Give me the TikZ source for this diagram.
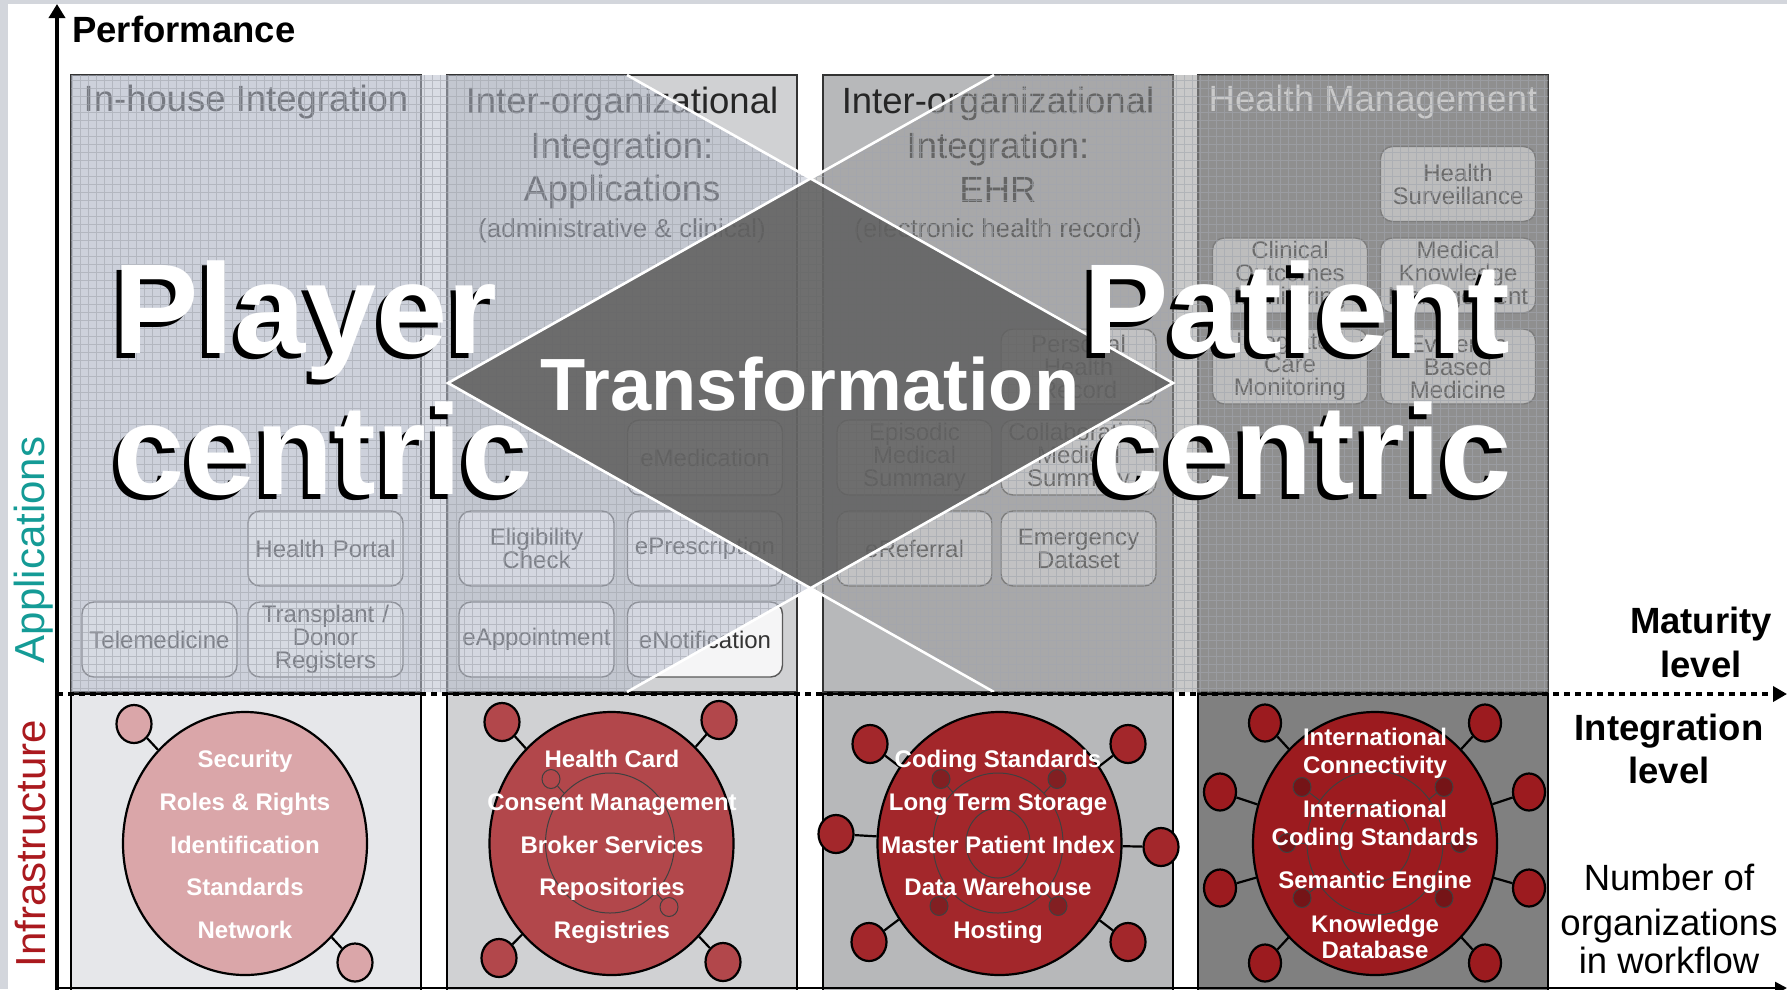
\documentclass[tikz,border=0pt]{standalone}
\usepackage{fontspec}
\setmainfont{Liberation Sans}
\usepackage{xcolor}
\usetikzlibrary{positioning,shapes.geometric,arrows.meta}

\definecolor{frame}{HTML}{D3D6DC}
\definecolor{colA}{HTML}{E6E7EA}
\definecolor{colB}{HTML}{D0D1D3}
\definecolor{colC}{HTML}{B7B8BA}
\definecolor{colD}{HTML}{808080}
\definecolor{playertint}{RGB}{186,192,207}
\definecolor{patienttint}{RGB}{156,156,156}
\definecolor{transgrey}{HTML}{656565}
\definecolor{gridgrey}{HTML}{A2A6AE}
\definecolor{appteal}{RGB}{20,155,150}
\definecolor{infrared}{RGB}{170,25,30}
\definecolor{discA}{HTML}{DAA6A9}
\definecolor{discB}{HTML}{B2474B}
\definecolor{discC}{HTML}{A3272B}
\definecolor{discD}{HTML}{9C1B1F}

\newcommand{\pxfont}[1]{\fontsize{#1}{#1}\selectfont}

\tikzset{
	colframe/.style={draw=black!80, line width=1.5pt},
	infraframe/.style={draw=black, line width=2pt},
	hdr/.style={anchor=base, inner sep=0pt, text=black!85, font=\pxfont{36.5}},
	hdrsmall/.style={hdr, font=\pxfont{26}},
	appbox/.style={draw=black!65, line width=1.4pt, rounded corners=12pt, fill=white, fill opacity=0.8, text opacity=1,
		minimum width=155pt, minimum height=75pt, text width=152pt, align=center, inner sep=0pt,
		text=black!80, font=\fontsize{24}{23}\selectfont},
	gridline/.style={draw=gridgrey, line width=0.8pt, opacity=0.6},
	whiteline/.style={white, line width=2.6pt},
	bigword/.style={inner sep=0pt, font=\bfseries\pxfont{128}},
	bigdisc/.style={ellipse, draw=black, line width=2.2pt, minimum width=244pt, minimum height=263pt, inner sep=0pt},
	smalldisc/.style={ellipse, draw=black, line width=2.2pt, minimum width=35pt, minimum height=38pt, inner sep=0pt},
	innerdisc/.style={ellipse, draw=black!75, line width=1pt, inner sep=0pt},
	tinydisc/.style={ellipse, draw=black!75, line width=1pt, minimum width=18pt, minimum height=19pt, inner sep=0pt},
	link/.style={line width=2.2pt},
	thinlink/.style={draw=black!75, line width=1pt},
	infotext/.style={anchor=base, inner sep=0pt, text=white, font=\bfseries\pxfont{24}},
	sidetext/.style={anchor=base, inner sep=0pt, font=\bfseries\pxfont{36.5}},
	axisline/.style={line width=4pt, -{Triangle[length=14pt,width=16pt]}},
	dotaxis/.style={line width=4.5pt, dash pattern=on 5.5pt off 5.5pt, -{Triangle[length=14pt,width=15pt]}}
}

\begin{document}
\begin{tikzpicture}[x=1pt, y=-1pt]
\useasboundingbox (0,0) rectangle (1787,989);
%frame
\fill[frame] (0,0) rectangle (1787,989);
\fill[white] (8,4) rectangle (1787,989);
%
%columns
\foreach \l/\r/\c in {71/421/colA, 447/797/colB, 823/1173/colC, 1198/1548/colD} {
	\draw[colframe, fill=\c] (\l,75) rectangle (\r,692);
	\draw[infraframe, fill=\c] (\l,694) rectangle (\r,991);
}
%
%headers
\node[hdr] (hdrA) at (246,111.6) {In-house Integration};
\node[hdr] (hdrB1) at (622,113) {Inter-organizational};
\node[hdr] (hdrB2) at (622,158) {Integration:};
\node[hdr] (hdrB3) at (622,201) {Applications};
\node[hdrsmall] (hdrB4) at (622,237) {(administrative \& clinical)};
\node[hdr] (hdrC1) at (998,113) {Inter-organizational};
\node[hdr] (hdrC2) at (998,158) {Integration:};
\node[hdr] (hdrC3) at (998,202) {EHR};
\node[hdrsmall] (hdrC4) at (998,237) {(electronic health record)};
\node[hdr, text=white] (hdrD) at (1373,111.6) {Health Management};
%
%applications
\node[appbox] (tele) at (159.5,639.5) {Telemedicine};
\node[appbox] (portal) at (325.5,548.5) {Health Portal};
\node[appbox] (donor) at (325.5,639.5) {Transplant /\\Donor\\Registers};
\node[appbox] (emed) at (705,457.5) {eMedication};
\node[appbox] (elig) at (536.5,548.5) {Eligibility\\Check};
\node[appbox] (epres) at (705,548.5) {ePrescription};
\node[appbox] (eappt) at (536.5,639.5) {eAppointment};
\node[appbox] (enotif) at (705,639.5) {eNotification};
\node[appbox] (phr) at (1078.5,366.5) {Personal\\Health\\Record};
\node[appbox] (episodic) at (914.5,457.5) {Episodic\\Medical\\Summary};
\node[appbox] (collab) at (1078.5,457.5) {Collaborative\\Medical\\Summary};
\node[appbox] (eref) at (914.5,548.5) {eReferral};
\node[appbox] (emerg) at (1078.5,548.5) {Emergency\\Dataset};
\node[appbox] (surv) at (1458,184) {Health\\Surveillance};
\node[appbox] (outcomes) at (1290,275.5) {Clinical\\Outcomes\\Monitoring};
\node[appbox] (knowledge) at (1458,275.5) {Medical\\Knowledge\\Management};
\node[appbox] (integrated) at (1290,366.5) {Integrated\\Care\\Monitoring};
\node[appbox] (evidence) at (1458,366.5) {Evidence\\Based\\Medicine};
%
%player / patient centric shading
\coordinate (lv) at (448,383);
\coordinate (rv) at (1173,383);
\coordinate (dt) at (810.5,178.5);
\coordinate (db) at (810.5,587.5);
\coordinate (l1) at (627,75);
\coordinate (l2) at (627,692);
\coordinate (l3) at (994,75);
\coordinate (l4) at (994,692);
\begin{scope}
	\clip (71,75) rectangle (1548,692);
	\fill[playertint, fill opacity=0.55, even odd rule] (rv) -- (l1) -- (0,75) -- (0,692) -- (l2) -- cycle
		(lv) -- (dt) -- (rv) -- (db) -- cycle;
	\fill[patienttint, fill opacity=0.54, even odd rule] (lv) -- (l3) -- (1600,75) -- (1600,692) -- (l4) -- cycle
		(lv) -- (dt) -- (rv) -- (db) -- cycle;
	\clip (0,75) -- (l1) -- (dt) -- (l3) -- (1600,75) -- (1600,692) -- (l4) -- (db) -- (l2) -- (0,692) -- cycle;
	\draw[gridline, step=8pt] (64,696) grid (1552,72);
\end{scope}
%
%transformation
\fill[transgrey, fill opacity=0.93] (lv) -- (dt) -- (rv) -- (db) -- cycle;
\draw[whiteline] (l1) -- (rv) -- (l2);
\draw[whiteline] (l3) -- (lv) -- (l4);
\node[anchor=base, inner sep=0pt, text=white, font=\bfseries\pxfont{74}] (trans) at (810,410) {Transformation};
%
\node[bigword, anchor=base west] (playershadow) at (108,358) {Player};
\node[bigword, anchor=base west, text=white] (player) at (113,353) {Player};
\node[bigword, anchor=base west] (pcentricshadow) at (108,499) {centric};
\node[bigword, anchor=base west, text=white] (pcentric) at (113,494) {centric};
\node[bigword, anchor=base east] (patientshadow) at (1505,358) {Patient};
\node[bigword, anchor=base east, text=white] (patient) at (1510,353) {Patient};
\node[bigword, anchor=base east] (qcentricshadow) at (1507,499) {centric};
\node[bigword, anchor=base east, text=white] (qcentric) at (1512,494) {centric};
%
%infrastructure level 1
\node[bigdisc, fill=discA] (secA) at (245,843.5) {};
\node[smalldisc, fill=discA] (secA1) at (134,724) {};
\node[smalldisc, fill=discA] (secA2) at (355,962.5) {};
\foreach \i in {1,2} \draw[link] (secA\i) -- (secA);
%
%infrastructure level 2
\node[bigdisc, fill=discB] (secB) at (611.5,843.5) {};
\node[innerdisc, minimum width=129pt, minimum height=140pt] (secBin) at (610,843) {};
\node[tinydisc, fill=discB] (secBt1) at (551,779) {};
\node[tinydisc, fill=discB] (secBt2) at (669,907) {};
\foreach \i in {1,2} \draw[thinlink] (secBt\i) -- (secBin);
\foreach \n/\x/\y in {1/502/722, 2/719/720, 3/499/958, 4/723/962} {
	\node[smalldisc, fill=discB] (secB\n) at (\x,\y) {};
	\draw[link] (secB\n) -- (secB);
}
%
%infrastructure level 3
\node[bigdisc, fill=discC] (secC) at (999.5,843.5) {};
\node[innerdisc, minimum width=130pt, minimum height=140pt] (secCin) at (998,843) {};
\node[innerdisc, minimum width=64pt, minimum height=70pt] (secCcore) at (998,843) {};
\foreach \n/\x/\y in {1/941/779, 2/1057/779, 3/939/906, 4/1058/906} {
	\node[tinydisc, fill=discC!80!black] (secCt\n) at (\x,\y) {};
	\draw[thinlink] (secCt\n) -- (secCin);
}
\foreach \n/\x/\y in {1/870/744, 2/1128/744, 3/836/834, 4/1161/847, 5/869/942, 6/1128/942} {
	\node[smalldisc, fill=discC] (secC\n) at (\x,\y) {};
	\draw[link] (secC\n) -- (secC);
}
%
%infrastructure level 4
\node[bigdisc, fill=discD] (secD) at (1375,843.5) {};
\node[innerdisc, minimum width=136pt, minimum height=144pt] (secDin) at (1375,843) {};
\node[innerdisc, minimum width=72pt, minimum height=78pt] (secDcore) at (1375,843) {};
\foreach \n/\x/\y in {1/1302/787, 2/1444/787, 3/1287/843, 4/1460/843, 5/1302/898, 6/1444/898} {
	\node[tinydisc, fill=discD!75!black] (secDt\n) at (\x,\y) {};
	\draw[thinlink] (secDt\n) -- (secDin);
}
\foreach \n/\x/\y in {1/1265/723, 2/1485/723, 3/1220/792, 4/1529/792, 5/1220/888, 6/1529/888, 7/1265/963, 8/1485/963} {
	\node[smalldisc, fill=discD, minimum width=32pt, minimum height=37pt] (secD\n) at (\x,\y) {};
	\draw[link] (secD\n) -- (secD);
}
%
%infrastructure texts
\foreach \t/\y [count=\i] in {Security/767, Roles \& Rights/810, Identification/853, Standards/895, Network/938}
	\node[infotext] (secAtxt\i) at (245,\y) {\t};
\foreach \t/\y [count=\i] in {Health Card/767, Consent Management/810, Broker Services/853, Repositories/895, Registries/938}
	\node[infotext] (secBtxt\i) at (612,\y) {\t};
\foreach \t/\y [count=\i] in {Coding Standards/767, Long Term Storage/810, Master Patient Index/853, Data Warehouse/895, Hosting/938}
	\node[infotext] (secCtxt\i) at (998,\y) {\t};
\foreach \t/\y [count=\i] in {International/745, Connectivity/773, International/817, Coding Standards/845, Semantic Engine/888, Knowledge/932, Database/958}
	\node[infotext] (secDtxt\i) at (1375,\y) {\t};
%
%axes
\coordinate (origin) at (57,991);
\coordinate (ytop) at (57,4);
\coordinate (xstart) at (57,694);
\coordinate (xend) at (1787,694);
\coordinate (bstart) at (57,988);
\coordinate (bend) at (1787,988);
\draw[axisline] (origin) -- (ytop);
\draw[dotaxis] (xstart) -- (xend);
\draw[line width=2.5pt, -{Triangle[length=12pt,width=12pt]}] (bstart) -- (bend);
%
%labels
\node[anchor=base west, inner sep=0pt, font=\bfseries\pxfont{36.5}] (perf) at (72,42) {Performance};
\node[rotate=90, anchor=base, inner sep=0pt, text=appteal, font=\pxfont{42}] (applab) at (44,550) {Applications};
\node[rotate=90, anchor=base, inner sep=0pt, text=infrared, font=\pxfont{42}] (infralab) at (45,843.5) {Infrastructure};
\node[sidetext] (matur1) at (1701,633) {Maturity};
\node[sidetext] (matur2) at (1701,677) {level};
\node[sidetext] (integ1) at (1669,740) {Integration};
\node[sidetext] (integ2) at (1669,783) {level};
\node[sidetext, font=\pxfont{36.5}] (orgs1) at (1669,890) {Number of};
\node[sidetext, font=\pxfont{36.5}] (orgs2) at (1669,935) {organizations};
\node[sidetext, font=\pxfont{36.5}] (orgs3) at (1669,973) {in workflow};
\end{tikzpicture}
\end{document}
